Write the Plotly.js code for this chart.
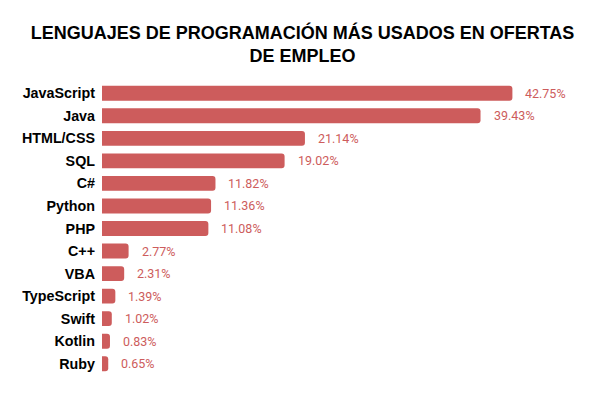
<!DOCTYPE html>
<html>
<head>
<meta charset="utf-8">
<script src="https://cdn.plot.ly/plotly-3.0.1.min.js"></script>
<style>html,body{margin:0;padding:0;background:#fff;}#chart{width:605px;height:420px;}</style>
</head>
<body>
<div id="chart"></div>
<script>
const languages = ["JavaScript","Java","HTML/CSS","SQL","C#","Python","PHP","C++","VBA","TypeScript","Swift","Kotlin","Ruby"];
const shares = [42.75,39.43,21.14,19.02,11.82,11.36,11.08,2.77,2.31,1.39,1.02,0.83,0.65];
const shareLabels = ["42.75%","39.43%","21.14%","19.02%","11.82%","11.36%","11.08%","2.77%","2.31%","1.39%","1.02%","0.83%","0.65%"];

const barColor = "#cd5c5c";

const trace = {
  type: "bar",
  orientation: "h",
  x: shares,
  y: languages,
  marker: {color: barColor, cornerradius: 3},
  width: 0.66,
  hoverinfo: "none"
};

const annotations = languages.map((lang, i) => ({
  x: shares[i], y: lang, xref: "x", yref: "y",
  text: shareLabels[i], showarrow: false,
  xanchor: "left", xshift: 11,
  font: {family: "Roboto, sans-serif", size: 12.5, color: barColor}
}));

const layout = {
  width: 605, height: 420,
  margin: {l: 102, r: 70.5, t: 82, b: 44.5},
  paper_bgcolor: "#fff", plot_bgcolor: "#fff",
  title: {
    text: "LENGUAJES DE PROGRAMACIÓN MÁS USADOS EN OFERTAS<br>DE EMPLEO",
    font: {family: "Liberation Sans, Arial, sans-serif", size: 18, color: "#000", weight: "bold"},
    x: 0.5, xanchor: "center", y: 0.907, yanchor: "top"
  },
  xaxis: {range: [0, 45], visible: false, fixedrange: true},
  yaxis: {
    type: "category", autorange: "reversed",
    showgrid: false, zeroline: false, showline: false, ticks: "",
    ticklabelstandoff: 6,
    tickfont: {family: "Liberation Sans, Arial, sans-serif", size: 14.3, color: "#000", weight: "bold"}
  },
  annotations: annotations,
  showlegend: false
};

Plotly.newPlot("chart", [trace], layout, {displayModeBar: false, staticPlot: true});
</script>
</body>
</html>
